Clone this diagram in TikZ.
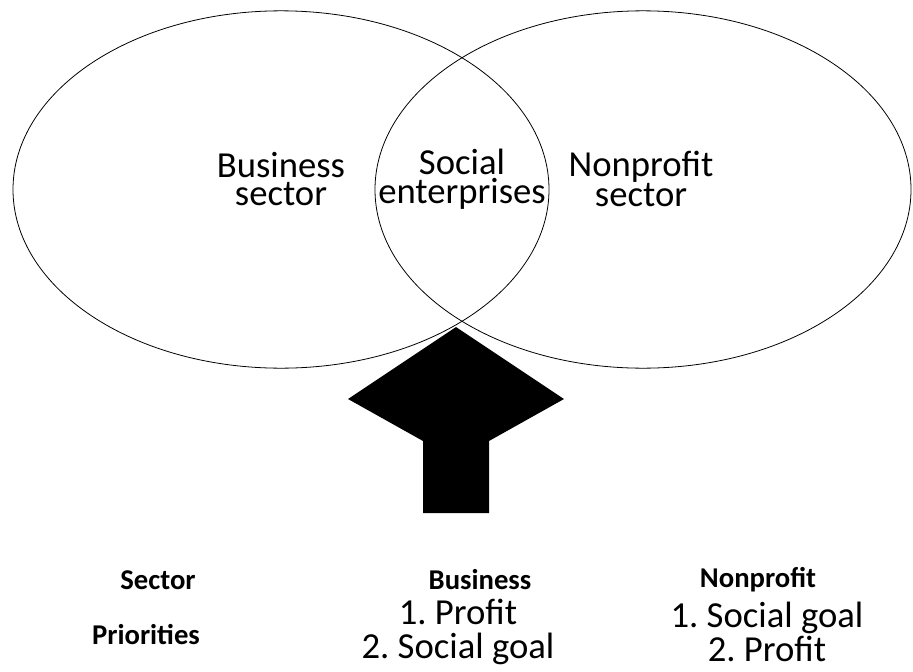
\documentclass[tikz,border=0pt]{standalone}
\usepackage{fontspec}
\setmainfont{Carlito}
\usetikzlibrary{shapes.geometric, positioning}

\begin{document}
\frenchspacing
\begin{tikzpicture}[x=0.75pt, y=-0.75pt,
        set/.style={ellipse, draw, line width=0.6pt, inner sep=0pt,
            minimum width=402pt, minimum height=268pt},
        lbl/.style={align=center, inner sep=0pt,
            font=\fontsize{27.5}{21.5}\selectfont},
        hdr/.style={inner sep=0pt, font=\fontsize{21.5}{22}\selectfont\bfseries},
        cell/.style={align=center, inner sep=0pt,
            font=\fontsize{27.5}{25}\selectfont}]
        \useasboundingbox (0,0) rectangle (913,671);
        % the two sectors
        \node[set] (bizset) at (281,189.5) {};
        \node[set] (npset) at (643,189.5) {};
        \node[lbl] (biz) at (281,179) {Business\\sector};
        \node[lbl] (soc) at (462,179) {Social\\enterprises};
        \node[lbl] (np) at (641,179) {Nonprofit\\sector};
        % block arrow up to the overlap
        \fill (456,327) -- (564,399) -- (489,441) -- (489,513)
            -- (423,513) -- (423,441) -- (348,399) -- cycle;
        % table below
        \node[hdr] (sec) at (158,580) {Sector};
        \node[hdr] (bus) at (480,580) {Business};
        \node[hdr] (non) at (758,580) {Nonprofit};
        \node[hdr] (pri) at (146,635) {Priorities};
        \node[cell] (busp) at (458,632) {1. Profit\\2. Social goal};
        \node[cell] (nonp) at (767,632) {1. Social goal\\2. Profit};
    \end{tikzpicture}
\end{document}
